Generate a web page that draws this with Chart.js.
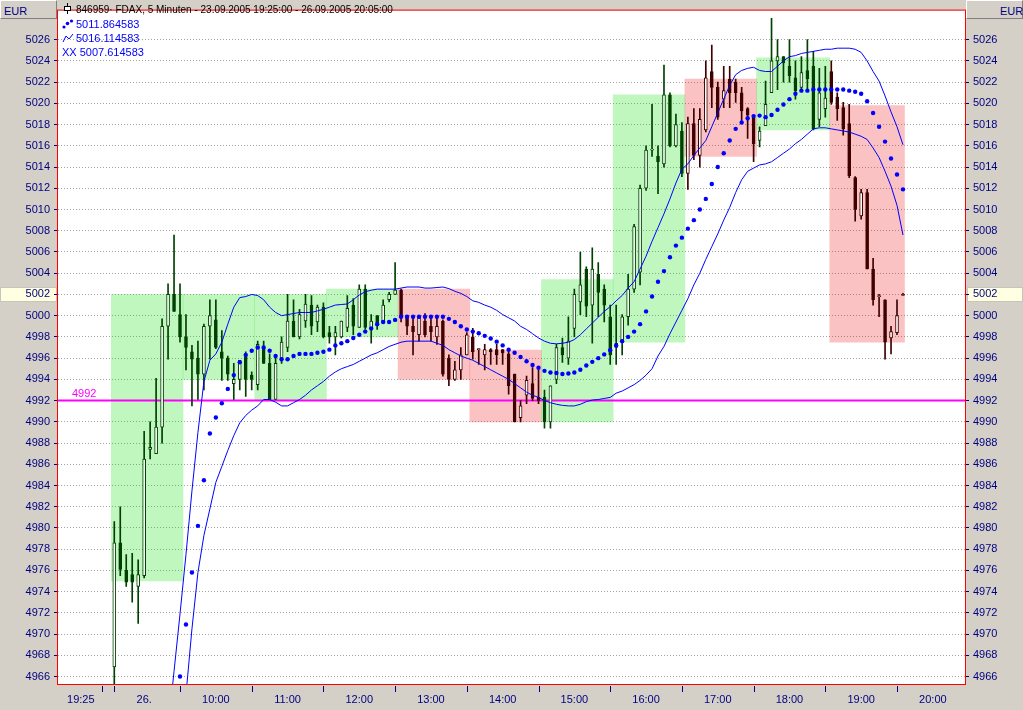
<!DOCTYPE html>
<html>
<head>
<meta charset="utf-8">
<title>FDAX 5 Minuten</title>
<script src="https://cdn.jsdelivr.net/npm/chart.js@4.4.1/dist/chart.umd.min.js"></script>
<style>
  html, body { margin: 0; padding: 0; background: #d4d0c8; }
  #wrap { position: relative; width: 1023px; height: 710px; overflow: hidden; }
  canvas { display: block; }
  .eur { position: absolute; top: 0; height: 19px; width: 56px; font: 11px "Liberation Sans", Arial, sans-serif;
         color: #000080; line-height: 20px; background: #d4d0c8;
         border-top: 1px solid #fff; border-left: 1px solid #fff; border-bottom: 1px solid #808080; border-right: 1px solid #808080; box-sizing: border-box; }
  #info { position: absolute; left: 62px; top: 3px; font: 11px "Liberation Sans", Arial, sans-serif; line-height: 14px; white-space: nowrap; }
  #info div { height: 14px; }
  #info .head { font-size: 10px; }
  #info svg { vertical-align: -1px; margin-right: 2px; }
  .blue { color: #0000ff; }
</style>
</head>
<body>
<div id="wrap">
  <canvas id="fdaxChart" width="1023" height="710"></canvas>
  <div class="eur" style="left:0; width:57px; padding-left:3px;">EUR</div>
  <div class="eur" style="left:966px; width:57px; padding-left:33px;">EUR</div>
  <div id="info">
    <div class="head"><svg width="12" height="11"><line x1="5.5" y1="0" x2="5.5" y2="11" stroke="#000"/><rect x="2.5" y="3.5" width="6" height="4" fill="#fff" stroke="#000"/></svg>846959· FDAX, 5 Minuten - 23.09.2005 19:25:00 - 26.09.2005 20:05:00</div>
    <div class="blue"><svg width="12" height="11"><circle cx="2" cy="9" r="1.6" fill="#0000ff"/><circle cx="5.5" cy="5.5" r="1.8" fill="#0000ff"/><circle cx="9.5" cy="3" r="1.6" fill="#0000ff"/></svg>5011.864583</div>
    <div class="blue"><svg width="12" height="11"><polyline points="1,10 4,4 7,7 11,2" fill="none" stroke="#0000ff"/></svg>5016.114583</div>
    <div class="blue">XX 5007.614583</div>
  </div>
</div>
<script>
// 5-Minuten-Kerzen, Index 0 = erste Kerze am 26.09. (Slot-Nummer auf der x-Achse)
const open = [
  4966.9, 4978.6, 4976.0, 4975.6, 4974.5, 4975.5, 4987.4, 4987.0, 4989.5, 4999.0, 5002.0, 5000.1,
  4998.0, 4996.6, 4996.0, 4994.5, 4999.0, 4999.6, 4996.6, 4996.0, 4993.6, 4994.0, 4996.1, 4994.4,
  4993.5, 4997.0, 4995.5, 4992.1, 4996.0, 4997.0, 4999.5, 4998.0, 4999.5, 5001.0, 4999.4, 5000.8,
  4998.4, 4998.0, 4998.0, 4998.9, 5001.0, 4998.9, 5002.5, 4998.8, 5000.0, 4999.4, 5001.5, 5002.0,
  5002.4, 5000.0, 4999.0, 4998.2, 4999.5, 4999.0, 4998.0, 4999.5, 4996.0, 4994.0, 4994.9, 4996.3,
  4998.0, 4996.8, 4996.3, 4996.8, 4996.8, 4996.8, 4996.4, 4994.5, 4990.4, 4992.5, 4993.6, 4992.3,
  4992.3, 4990.0, 4994.0, 4997.0, 4996.0, 4998.8, 5001.3, 5004.4, 5001.0, 5003.9, 5002.5, 4999.9,
  4997.4, 4997.7, 4999.9, 5002.5, 5004.1, 5012.0, 5015.6, 5015.0, 5014.3, 5020.8, 5016.0, 5017.4,
  5013.4, 5018.1, 5015.1, 5017.5, 5023.0, 5021.5, 5020.4, 5022.3, 5022.0, 5021.0, 5019.5, 5018.7,
  5016.5, 5017.9, 5021.0, 5024.0, 5024.4, 5023.5, 5022.4, 5021.5, 5023.1, 5023.5, 5018.5, 5019.5,
  5023.0, 5020.6, 5019.6, 5018.1, 5013.0, 5009.4, 5011.6, 5004.4, 5001.8, 5001.5, 4997.9, 4998.4, 5001.9
];
const high = [
  4980.6, 4982.0, 4977.5, 4977.6, 4977.0, 4989.1, 4990.0, 4994.1, 4999.7, 5003.0, 5007.6, 5003.0,
  5000.1, 4997.2, 4997.6, 4999.2, 5001.5, 5001.5, 4998.6, 4996.2, 4995.5, 4995.8, 4996.6, 4994.7,
  4997.6, 4997.6, 4996.4, 4996.2, 4998.0, 5002.0, 5001.5, 5000.6, 5002.0, 5001.9, 5001.0, 5001.2,
  4999.0, 4999.0, 4999.5, 5001.9, 5001.6, 5002.9, 5002.9, 5000.1, 5000.0, 5001.5, 5002.2, 5005.0,
  5002.5, 5000.0, 4999.9, 4999.9, 5000.2, 4999.9, 4999.9, 4999.6, 4996.3, 4995.7, 4997.0, 4998.4,
  4998.8, 4996.9, 4997.3, 4996.9, 4997.3, 4996.8, 4996.7, 4994.5, 4992.0, 4994.3, 4995.1, 4994.9,
  4993.0, 4993.4, 4997.3, 4997.9, 4999.9, 5002.5, 5006.0, 5004.6, 5006.4, 5005.0, 5002.9, 5001.0,
  5001.0, 5000.1, 5003.9, 5008.6, 5012.3, 5016.0, 5019.9, 5016.0, 5023.6, 5021.0, 5019.0, 5018.2,
  5018.7, 5019.5, 5019.5, 5024.0, 5025.5, 5022.0, 5023.5, 5023.5, 5022.3, 5021.5, 5019.6, 5018.9,
  5017.8, 5022.1, 5028.0, 5026.0, 5024.4, 5026.0, 5024.0, 5024.4, 5026.0, 5024.9, 5023.3, 5023.5,
  5024.0, 5021.0, 5020.1, 5019.9, 5013.1, 5011.9, 5011.9, 5005.4, 5002.0, 5001.5, 4999.0, 5001.5, 5002.1
];
const low = [
  4962.0, 4975.5, 4974.5, 4973.0, 4971.0, 4975.3, 4986.5, 4987.0, 4988.0, 4995.9, 5000.4, 4997.5,
  4994.9, 4991.5, 4992.1, 4993.0, 4995.9, 4996.9, 4993.9, 4993.9, 4992.1, 4993.0, 4992.4, 4993.0,
  4993.0, 4995.5, 4992.1, 4992.1, 4995.5, 4996.6, 4998.0, 4997.8, 4998.9, 4998.2, 4998.5, 4997.9,
  4997.4, 4996.3, 4997.9, 4998.5, 4998.2, 4998.9, 4998.7, 4997.4, 4998.7, 4999.3, 5001.3, 5002.0,
  4999.4, 4998.2, 4996.3, 4997.6, 4998.0, 4997.6, 4997.3, 4994.3, 4993.4, 4993.9, 4994.0, 4996.3,
  4995.9, 4995.4, 4994.9, 4995.4, 4995.4, 4995.4, 4992.6, 4990.0, 4990.0, 4991.7, 4992.0, 4991.7,
  4989.4, 4989.4, 4993.6, 4995.6, 4995.4, 4998.0, 5000.1, 4999.9, 4997.4, 4999.9, 4999.4, 4995.4,
  4995.4, 4996.3, 4999.1, 5002.2, 5002.9, 5011.8, 5015.0, 5011.5, 5014.0, 5015.9, 5015.9, 5013.1,
  5011.9, 5014.7, 5014.0, 5017.3, 5019.6, 5018.5, 5019.6, 5019.6, 5020.1, 5018.4, 5016.7, 5014.5,
  5015.9, 5017.9, 5021.0, 5021.3, 5022.0, 5022.0, 5020.4, 5021.2, 5021.2, 5017.5, 5017.8, 5018.7,
  5019.9, 5018.4, 5017.0, 5013.0, 5008.9, 5009.1, 5004.4, 5001.0, 4999.9, 4995.9, 4996.4, 4998.2, 5001.9
];
const close = [
  4978.6, 4976.1, 4974.9, 4974.9, 4975.6, 4986.5, 4987.6, 4989.5, 4999.0, 5002.0, 5000.4, 4998.0,
  4997.0, 4995.9, 4994.5, 4999.0, 5000.0, 4997.0, 4996.0, 4994.5, 4994.0, 4995.8, 4994.0, 4994.0,
  4997.3, 4995.5, 4992.1, 4995.5, 4997.5, 4999.5, 4998.0, 5000.1, 5001.1, 4999.0, 5000.8, 4998.0,
  4998.0, 4998.4, 4999.5, 5000.7, 4999.0, 5002.5, 4998.9, 4999.5, 4999.3, 5001.0, 5002.0, 5002.4,
  4999.9, 4999.0, 4998.5, 4999.8, 4998.2, 4998.5, 4999.0, 4994.5, 4994.0, 4994.9, 4996.3, 4998.2,
  4996.6, 4996.8, 4996.8, 4996.6, 4996.3, 4996.5, 4993.4, 4990.0, 4991.5, 4993.9, 4992.2, 4992.0,
  4990.0, 4993.4, 4997.0, 4996.3, 4997.6, 5002.0, 5002.9, 5000.9, 5004.4, 5002.2, 5001.0, 4996.3,
  4997.0, 4999.9, 5002.5, 5008.4, 5012.0, 5015.6, 5015.6, 5014.5, 5020.8, 5016.0, 5018.0, 5013.4,
  5018.1, 5015.1, 5018.5, 5022.4, 5021.5, 5018.7, 5021.2, 5021.0, 5021.0, 5019.3, 5018.9, 5016.2,
  5017.4, 5019.9, 5024.0, 5024.4, 5023.8, 5022.6, 5021.2, 5022.9, 5022.3, 5017.6, 5021.0, 5020.5,
  5020.1, 5019.5, 5017.6, 5013.2, 5010.0, 5011.6, 5004.4, 5001.5, 5001.8, 4997.5, 4998.5, 5000.0, 5002.0
];

// Bollinger-Baender (oben / Mitte als Punkte / unten), null = ausserhalb des Bildes
const upperBand = [
  null, null, null, null, null, null, null, null, null,
  4961.0, 4966.5, 4971.9, 4977.5, 4983.5, 4989.0, 4993.8, 4995.8, 4996.4, 4997.5, 4999.2, 5000.8, 5001.7, 5001.8, 5002.0,
  5001.9, 5001.5, 5000.8, 5000.3, 5000.0, 5000.1, 5000.2, 5000.3, 5000.3, 5000.3, 5000.45, 5000.6,
  5000.8, 5001.0, 5001.05, 5001.1, 5001.5, 5001.95, 5002.25, 5002.4, 5002.5, 5002.5, 5002.5, 5002.5,
  5002.6, 5002.7, 5002.7, 5002.7, 5002.6, 5002.6, 5002.65, 5002.7, 5002.55, 5002.3, 5002.1, 5001.8,
  5001.4, 5001.25, 5001.0, 5000.8, 5000.5, 5000.1, 4999.8, 4999.5, 4999.0, 4998.7, 4998.3, 4997.9,
  4997.6, 4997.4, 4997.35, 4997.4, 4997.5, 4997.75, 4998.2, 4998.75, 4999.3, 4999.85, 5000.4, 5000.85,
  5001.4, 5001.9, 5002.6, 5003.2, 5004.4, 5005.6, 5007.0, 5008.3, 5009.6, 5011.0, 5012.5, 5013.8,
  5014.3, 5015.1, 5015.8, 5016.5, 5017.8, 5019.1, 5020.4, 5021.7, 5022.7, 5023.1, 5023.3, 5023.4,
  5023.1, 5023.0, 5023.0, 5023.5, 5024.0, 5024.4, 5024.5, 5024.7, 5024.8, 5024.9, 5025.0, 5025.1,
  5025.1, 5025.2, 5025.2, 5025.2, 5025.1, 5024.8, 5024.0, 5023.0, 5022.1, 5020.7, 5019.2, 5017.8, 5016.1
];
const middleBand = [
  null, null, null, null, null, null, null, null, null, null, null,
  4966.0, 4970.9, 4975.8, 4980.2, 4984.5, 4988.9, 4990.4, 4991.75, 4993.1, 4994.4, 4995.6, 4996.3, 4996.7,
  4997.0, 4997.0, 4996.7, 4996.2, 4995.9, 4995.9, 4996.2, 4996.4, 4996.4, 4996.4, 4996.5, 4996.6,
  4996.8, 4997.2, 4997.4, 4997.6, 4997.9, 4998.2, 4998.5, 4998.8, 4999.2, 4999.4, 4999.4, 4999.6,
  4999.9, 4999.9, 4999.9, 4999.9, 4999.9, 4999.9, 4999.9, 4999.9, 4999.7, 4999.4, 4999.0, 4998.7,
  4998.5, 4998.35, 4998.1, 4997.85, 4997.55, 4997.2, 4996.8, 4996.5, 4996.1, 4995.7, 4995.35, 4995.1,
  4994.8, 4994.65, 4994.6, 4994.5, 4994.55, 4994.65, 4994.9, 4995.3, 4995.65, 4996.0, 4996.35, 4996.75,
  4997.2, 4997.6, 4998.0, 4998.5, 4999.2, 5000.4, 5001.8, 5003.2, 5004.2, 5005.5, 5006.6, 5007.35,
  5008.2, 5009.0, 5010.0, 5011.0, 5012.4, 5014.0, 5015.3, 5016.5, 5017.6, 5018.2, 5018.6, 5018.8,
  5018.85, 5018.7, 5018.9, 5019.4, 5019.9, 5020.4, 5020.9, 5021.2, 5021.2, 5021.3, 5021.3, 5021.3,
  5021.3, 5021.3, 5021.3, 5021.2, 5021.1, 5020.9, 5020.2, 5019.1, 5017.8, 5016.4, 5014.8, 5013.3, 5011.9
];
const lowerBand = [
  null, null, null, null, null, null, null, null, null, null, null,
  4960.0, 4964.3, 4970.5, 4975.8, 4979.3, 4981.8, 4984.3, 4985.8, 4987.3, 4988.7, 4989.9, 4990.6, 4991.1,
  4991.5, 4992.1, 4992.1, 4991.85, 4991.5, 4991.5, 4991.8, 4992.1, 4992.5, 4993.0, 4993.4, 4993.8,
  4994.3, 4994.7, 4995.0, 4995.2, 4995.4, 4995.7, 4996.0, 4996.3, 4996.5, 4996.8, 4997.1, 4997.3,
  4997.5, 4997.6, 4997.6, 4997.6, 4997.6, 4997.6, 4997.4, 4997.2, 4996.8, 4996.5, 4996.2, 4996.0,
  4995.8, 4995.5, 4995.2, 4994.9, 4994.6, 4994.3, 4994.0, 4993.6, 4993.2, 4992.8, 4992.5, 4992.3,
  4992.0, 4991.8, 4991.65, 4991.55, 4991.5, 4991.5, 4991.65, 4991.9, 4992.05, 4992.1, 4992.2, 4992.3,
  4992.7, 4992.9, 4993.2, 4993.5, 4993.9, 4994.4, 4995.0, 4996.2, 4997.1, 4998.3, 4999.4, 5000.5,
  5001.6, 5002.9, 5004.0, 5005.3, 5006.5, 5007.7, 5009.0, 5010.2, 5011.6, 5012.8, 5013.6, 5013.9,
  5014.2, 5014.3, 5014.5, 5014.9, 5015.3, 5015.7, 5016.2, 5016.6, 5017.1, 5017.6, 5017.7, 5017.7,
  5017.6, 5017.5, 5017.4, 5017.3, 5017.1, 5016.9, 5016.6, 5015.8, 5014.9, 5013.6, 5012.2, 5010.4, 5007.6
];

// Stundenkaesten: erste/letzte Kerze, Spanne, Richtung
const hourStart = [0, 12, 24, 36, 48, 60, 72, 84, 96, 108, 120];
const hourEnd   = [11, 23, 35, 47, 59, 71, 83, 95, 107, 119, 132];
const boxLow    = [4975.0, 4994.0, 4992.0, 4998.0, 4994.0, 4990.0, 4990.0, 4997.5, 5015.0, 5017.5, 4997.5];
const boxHigh   = [5002.0, 5002.0, 5002.0, 5002.5, 5002.5, 4996.75, 5003.4, 5020.8, 5022.3, 5024.3, 5019.8];
const boxTrend  = ['up', 'up', 'up', 'up', 'down', 'down', 'up', 'up', 'down', 'up', 'down'];

// Achsen
const priceTicks = [4966, 4968, 4970, 4972, 4974, 4976, 4978, 4980, 4982, 4984, 4986, 4988, 4990, 4992, 4994,
  4996, 4998, 5000, 5002, 5004, 5006, 5008, 5010, 5012, 5014, 5016, 5018, 5020, 5022, 5024, 5026];
const timeLabels = ['19:25', '26.', '10:00', '11:00', '12:00', '13:00', '14:00', '15:00', '16:00', '17:00', '18:00', '19:00', '20:00'];
const timeLabelSlot = [-5.6, 5, 17, 29, 41, 53, 65, 77, 89, 101, 113, 125, 137];
const hourMarkSlot = [-2, 0, 11, 23, 35, 47, 59, 71, 83, 95, 107, 119, 131];
const levelLine = 4992;
const xMin = -9.42, xMax = 142.38;
const yMin = 4965.30, yMax = 5028.74;

const panelGrey = '#d4d0c8';
const axisBlue = '#000080';
const slots = open.map((_, i) => i);
const lastPrice = close[close.length - 1];

function boxIndex(i) {
  for (let k = 0; k < hourStart.length; k++) {
    if (i >= hourStart[k] && i <= hourEnd[k]) return k;
  }
  return -1;
}
function candleColour(i) {
  const k = boxIndex(i);
  if (k < 0) return '#000000';
  return boxTrend[k] === 'up' ? '#004000' : '#400000';
}
const toPoints = (arr) => arr.map((v, i) => ({ x: i, y: v })).filter(p => p.y !== null);

const chartPlugin = {
  id: 'fdaxFrame',
  beforeDraw(chart) {
    const { ctx, chartArea: a, scales } = chart;
    ctx.save();
    ctx.fillStyle = panelGrey;
    ctx.fillRect(0, 0, chart.width, chart.height);
    ctx.fillStyle = '#ffffff';
    ctx.fillRect(a.left, a.top, a.right - a.left, a.bottom - a.top);
    // letzter Kurs auf beiden Preisachsen
    const yp = Math.round(scales.y.getPixelForValue(lastPrice));
    ctx.fillStyle = '#ffffe1';
    ctx.strokeStyle = '#c8c4b8';
    ctx.fillRect(0, yp - 7, a.left - 1, 15);
    ctx.strokeRect(0.5, yp - 6.5, a.left - 2, 14);
    ctx.fillRect(a.right + 2, yp - 7, chart.width - a.right - 2, 15);
    ctx.strokeRect(a.right + 2.5, yp - 6.5, chart.width - a.right - 3, 14);
    ctx.restore();
  },
  afterDatasetsDraw(chart) {
    const { ctx, chartArea: a, scales } = chart;
    ctx.save();
    ctx.fillStyle = '#ff00ff';
    ctx.font = '11px "Liberation Sans", Arial, sans-serif';
    ctx.textBaseline = 'alphabetic';
    ctx.fillText(String(levelLine), a.left + 14, scales.y.getPixelForValue(levelLine) - 4);
    ctx.restore();
  },
  afterDraw(chart) {
    const { ctx, chartArea: a, scales } = chart;
    ctx.save();
    ctx.strokeStyle = '#ff0000';
    ctx.lineWidth = 1;
    ctx.strokeRect(a.left - 0.5, a.top - 0.5, a.right - a.left + 1, a.bottom - a.top + 1);
    ctx.strokeStyle = axisBlue;
    hourMarkSlot.forEach(s => {
      const px = Math.round(scales.x.getPixelForValue(s)) + 0.5;
      ctx.beginPath();
      ctx.moveTo(px, a.bottom + 2);
      ctx.lineTo(px, a.bottom + 8);
      ctx.stroke();
    });
    ctx.restore();
  }
};

new Chart(document.getElementById('fdaxChart').getContext('2d'), {
  type: 'bar',
  data: {
    datasets: [
      {
        label: 'Stunde',
        data: hourStart.map((s, k) => ({ x: (s + hourEnd[k]) / 2, y: [boxLow[k], boxHigh[k]] })),
        backgroundColor: boxTrend.map(t => t === 'up' ? 'rgba(0,225,0,0.25)' : 'rgba(235,0,0,0.24)'),
        borderWidth: 0,
        barThickness: 'flex',
        categoryPercentage: 1,
        barPercentage: 1,
        clip: 0,
        order: 10
      },
      {
        type: 'line',
        label: String(levelLine),
        data: [{ x: xMin, y: levelLine }, { x: xMax, y: levelLine }],
        borderColor: '#ff00ff',
        borderWidth: 2,
        pointRadius: 0,
        clip: 0,
        order: 9
      },
      {
        label: 'Docht',
        data: slots.map(i => ({ x: i, y: [low[i], high[i]] })),
        backgroundColor: slots.map(candleColour),
        borderWidth: 0,
        barThickness: 1,
        grouped: false,
        clip: 0,
        order: 8
      },
      {
        label: 'Kerze',
        data: slots.map(i => ({ x: i, y: [open[i], close[i]] })),
        backgroundColor: slots.map(i => close[i] >= open[i] ? '#ffffff' : candleColour(i)),
        borderColor: slots.map(candleColour),
        borderWidth: 1,
        borderSkipped: false,
        barThickness: 3,
        minBarLength: 1,
        grouped: false,
        clip: 0,
        order: 7
      },
      {
        type: 'line',
        label: '5016.114583',
        data: toPoints(upperBand),
        borderColor: '#0000ff',
        borderWidth: 1,
        pointRadius: 0,
        tension: 0,
        clip: 0,
        order: 6
      },
      {
        type: 'line',
        label: '5007.614583',
        data: toPoints(lowerBand),
        borderColor: '#0000ff',
        borderWidth: 1,
        pointRadius: 0,
        tension: 0,
        clip: 0,
        order: 6
      },
      {
        type: 'line',
        label: '5011.864583',
        data: toPoints(middleBand),
        showLine: false,
        pointRadius: 2.2,
        pointBackgroundColor: '#0000ff',
        pointBorderWidth: 0,
        clip: 0,
        order: 5
      }
    ]
  },
  options: {
    responsive: false,
    animation: false,
    events: [],
    layout: { padding: { top: 2, left: 0, right: 0, bottom: 0 } },
    plugins: { legend: { display: false }, tooltip: { enabled: false }, title: { display: false } },
    scales: {
      x: {
        type: 'linear',
        min: xMin,
        max: xMax,
        offset: false,
        grid: { display: false, drawTicks: false },
        border: { display: false },
        afterBuildTicks: (axis) => { axis.ticks = timeLabelSlot.map(v => ({ value: v })); },
        afterFit: (axis) => { axis.height = 26; },
        ticks: {
          autoSkip: false,
          maxRotation: 0,
          padding: 9,
          color: axisBlue,
          font: { family: '"Liberation Sans", Arial, sans-serif', size: 11 },
          callback: (value, index) => timeLabels[index]
        }
      },
      y: {
        type: 'linear',
        position: 'left',
        min: yMin,
        max: yMax,
        beginAtZero: false,
        afterBuildTicks: (axis) => { axis.ticks = priceTicks.map(v => ({ value: v })); },
        afterFit: (axis) => { axis.width = 58; },
        grid: { color: '#a4a4a4', tickColor: axisBlue, tickLength: 4, tickBorderDash: [], drawTicks: true },
        border: { display: false, dash: [1, 2] },
        ticks: {
          padding: 4,
          color: axisBlue,
          font: { family: '"Liberation Sans", Arial, sans-serif', size: 11 },
          callback: (value) => String(value)
        }
      },
      y2: {
        type: 'linear',
        position: 'right',
        min: yMin,
        max: yMax,
        beginAtZero: false,
        afterBuildTicks: (axis) => { axis.ticks = priceTicks.map(v => ({ value: v })); },
        afterFit: (axis) => { axis.width = 58; },
        grid: { drawOnChartArea: false, tickColor: axisBlue, tickLength: 4, tickBorderDash: [] },
        border: { display: false },
        ticks: {
          padding: 4,
          color: axisBlue,
          font: { family: '"Liberation Sans", Arial, sans-serif', size: 11 },
          callback: (value) => String(value)
        }
      }
    }
  },
  plugins: [chartPlugin]
});
</script>
</body>
</html>
